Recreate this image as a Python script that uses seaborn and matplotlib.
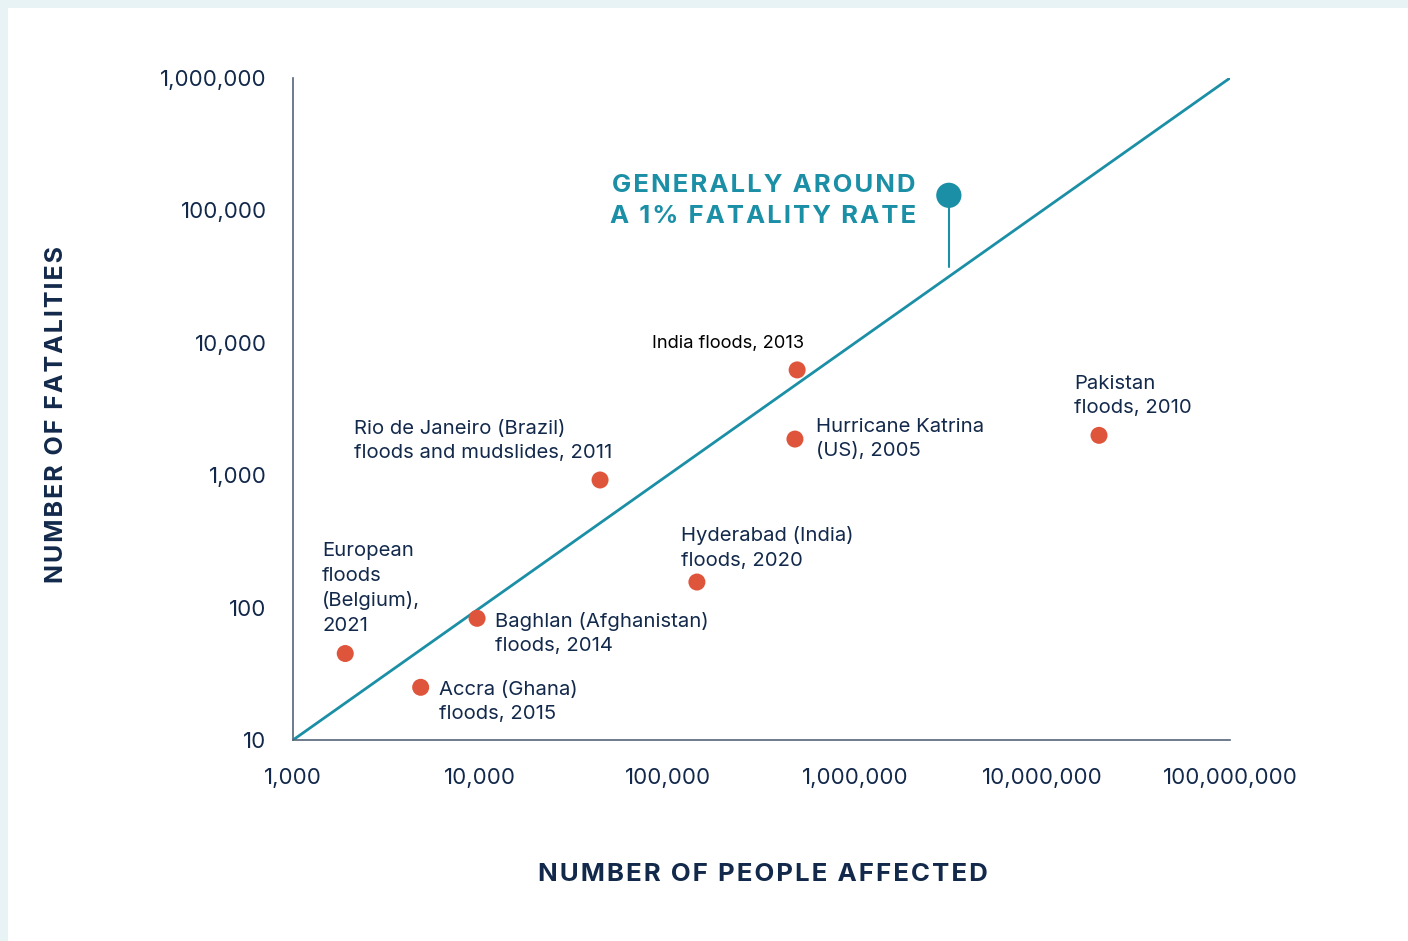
import matplotlib
matplotlib.use("Agg")
import matplotlib.pyplot as plt
from matplotlib.patches import Rectangle
from matplotlib.ticker import FixedLocator, FuncFormatter, NullLocator
import numpy as np
import pandas as pd
import seaborn as sns

# ---- data -------------------------------------------------------------
events = [
    "European\nfloods\n(Belgium),\n2021",
    "Accra (Ghana)\nfloods, 2015",
    "Baghlan (Afghanistan)\nfloods, 2014",
    "Rio de Janeiro (Brazil)\nfloods and mudslides, 2011",
    "Hyderabad (India)\nfloods, 2020",
    "India floods, 2013",
    "Hurricane Katrina\n(US), 2005",
    "Pakistan\nfloods, 2010",
]
people_affected = [1900, 4800, 9600, 43500, 143000, 490000, 477000, 20000000]
fatalities = [45, 25, 83, 920, 156, 6240, 1875, 2000]

# reference line: 1% of people affected
ref_affected = [1_000, 100_000_000]
ref_fatalities = [10, 1_000_000]

x_ticks = [1_000, 10_000, 100_000, 1_000_000, 10_000_000, 100_000_000]
y_ticks = [10, 100, 1_000, 10_000, 100_000, 1_000_000]

# callout marker for the reference line
callout_x = 3_160_000
callout_y = 130_000
callout_stem_end = 37_500

# ---- style ------------------------------------------------------------
NAVY = "#13294b"
TEAL = "#1b8fa6"
RED = "#df553b"
SPINE = "#55657a"
BG = "#e8f3f5"

sns.set_theme(style="white")
plt.rcParams["font.family"] = ["Inter", "DejaVu Sans"]


def tracked(text):
    """Widen letter spacing by putting a hair space between characters."""
    return "\n".join("\u200a".join(line) for line in text.split("\n"))


W, H = 1408, 941
fig = plt.figure(figsize=(W / 100, H / 100), dpi=100, facecolor=BG)
fig.patches.append(Rectangle((8 / W, 0), 1 - 8 / W, (H - 8) / H,
                             transform=fig.transFigure, facecolor="white",
                             edgecolor="none", zorder=-10))
ax = fig.add_axes([293 / W, 1 - 740 / H, (1230 - 293) / W, (740 - 78) / H])
ax.set_zorder(1)
ax.set_facecolor("none")

ref_df = pd.DataFrame({"affected": ref_affected, "fatalities": ref_fatalities})
sns.lineplot(data=ref_df, x="affected", y="fatalities", ax=ax, color=TEAL,
             linewidth=2.0, zorder=2)

df = pd.DataFrame({"event": events, "affected": people_affected,
                   "fatalities": fatalities})
sns.scatterplot(data=df, x="affected", y="fatalities", ax=ax, color=RED,
                s=150, edgecolor="none", zorder=3, clip_on=False)

ax.set_xscale("log")
ax.set_yscale("log")
ax.set_xlim(1_000, 100_000_000)
ax.set_ylim(10, 1_000_000)

fmt = FuncFormatter(lambda v, _: f"{int(round(v)):,}")
ax.xaxis.set_major_locator(FixedLocator(x_ticks))
ax.yaxis.set_major_locator(FixedLocator(y_ticks))
ax.xaxis.set_minor_locator(NullLocator())
ax.yaxis.set_minor_locator(NullLocator())
ax.xaxis.set_major_formatter(fmt)
ax.yaxis.set_major_formatter(fmt)
ax.tick_params(axis="both", which="major", direction="out", length=7,
               width=1.6, color=NAVY, labelcolor=NAVY, labelsize=16)
ax.tick_params(axis="x", pad=13)
ax.tick_params(axis="y", pad=12)
for side in ("top", "right"):
    ax.spines[side].set_visible(False)
for side in ("left", "bottom"):
    ax.spines[side].set_color(SPINE)
    ax.spines[side].set_linewidth(1.2)

ax.set_xlabel(tracked("NUMBER OF PEOPLE AFFECTED"), fontsize=18.6,
              fontweight="bold", color=NAVY)
ax.set_ylabel(tracked("NUMBER OF FATALITIES"), fontsize=18.0,
              fontweight="bold", color=NAVY)
ax.xaxis.set_label_coords(0.5016, -0.1855)
ax.yaxis.set_label_coords(-0.2401, 0.491)

# event labels: offsets in pixels from each point
offsets = [(-23, 65), (18, -15), (18, -15), (-246, 39), (-16, 34),
           (-145, 26), (21, 0), (-25, 39)]
for name, xv, yv, (dx, dy) in zip(events, people_affected, fatalities, offsets):
    color = "black" if name.startswith("India") else NAVY
    size = 13.2 if name.startswith("India") else 14.6
    ax.annotate(name, xy=(xv, yv), xytext=(dx, dy), textcoords="offset pixels",
                ha="left", va="center", fontsize=size, color=color,
                linespacing=1.45, zorder=4)

# callout for the 1% line
ax.plot([callout_x, callout_x], [callout_y, callout_stem_end], color=TEAL,
        linewidth=1.5, zorder=2)
ax.scatter([callout_x], [callout_y], s=330, color=TEAL, edgecolor="none",
           zorder=4, clip_on=False)
ax.annotate(tracked("GENERALLY AROUND\nA 1% FATALITY RATE"),
            xy=(callout_x, callout_y), xytext=(-33, -6),
            textcoords="offset pixels", ha="right", va="center",
            fontsize=18.5, fontweight="bold", color=TEAL,
            linespacing=1.45, zorder=4)

fig.savefig("out.png", dpi=100, facecolor=BG)
